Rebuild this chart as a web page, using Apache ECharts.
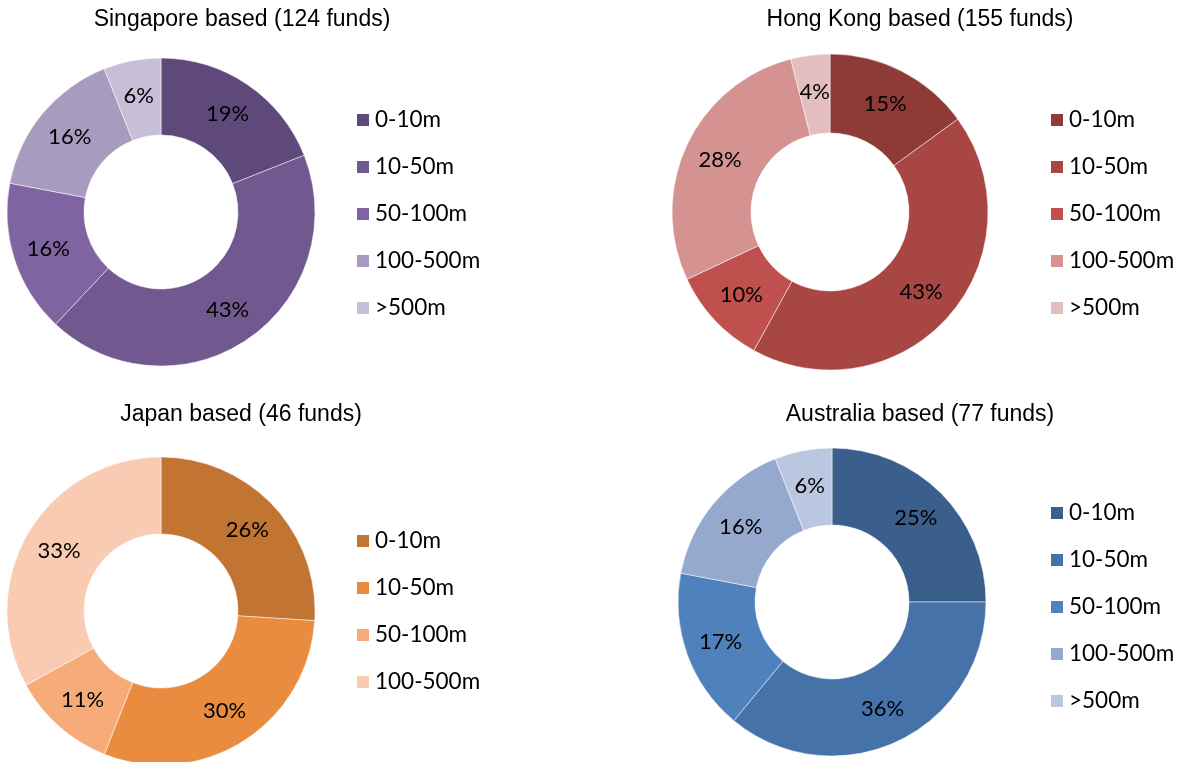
<!DOCTYPE html>
<html>
<head>
<meta charset="utf-8">
<script src="https://cdn.jsdelivr.net/npm/echarts@6/dist/echarts.min.js"></script>
<style>
  html, body { margin: 0; padding: 0; background: #fff; }
  #chart { width: 1184px; height: 762px; }
</style>
</head>
<body>
<div id="chart"></div>
<script>
// Fund size buckets and share of funds (%) by domicile
const sizeBuckets = ['0-10m', '10-50m', '50-100m', '100-500m', '>500m'];

const singaporeTitle = 'Singapore based (124 funds)';
const singaporeValues = [19, 43, 16, 16, 6];
const singaporeColors = ['#5F497A', '#71588F', '#8064A2', '#A79BBE', '#C7BFD7'];

const hongKongTitle = 'Hong Kong based (155 funds)';
const hongKongValues = [15, 43, 10, 28, 4];
const hongKongColors = ['#8E3B38', '#A84644', '#C0504D', '#D49391', '#E3BEBE'];

const japanTitle = 'Japan based (46 funds)';
const japanBuckets = ['0-10m', '10-50m', '50-100m', '100-500m'];
const japanValues = [26, 30, 11, 33];
const japanColors = ['#C27433', '#E98C3F', '#F7AB79', '#F9CBB2'];

const australiaTitle = 'Australia based (77 funds)';
const australiaValues = [25, 36, 17, 16, 6];
const australiaColors = ['#3A5F8C', '#4573A9', '#4F81BD', '#95A9CE', '#B9C7E0'];

const panels = [
  { key: 'sg', title: singaporeTitle, buckets: sizeBuckets, values: singaporeValues, colors: singaporeColors,
    center: [161, 212], radius: [77, 154], titlePos: [242, 8], legendPos: [355, 108] },
  { key: 'hk', title: hongKongTitle, buckets: sizeBuckets, values: hongKongValues, colors: hongKongColors,
    center: [830, 212], radius: [79, 158], titlePos: [920, 8], legendPos: [1049, 108] },
  { key: 'jp', title: japanTitle, buckets: japanBuckets, values: japanValues, colors: japanColors,
    center: [161, 611], radius: [77, 154], titlePos: [241, 403], legendPos: [355, 529] },
  { key: 'au', title: australiaTitle, buckets: sizeBuckets, values: australiaValues, colors: australiaColors,
    center: [832, 602], radius: [77, 154], titlePos: [920, 403], legendPos: [1049, 501] }
];

const labelFont = 'Lato, "Open Sans", "Noto Sans", sans-serif';
const titleFont = '"Liberation Sans", Arial, sans-serif';

const titles = [];
const legends = [];
const series = [];

panels.forEach(p => {
  const names = p.buckets.map(b => p.key + '|' + b);
  titles.push({
    text: p.title,
    left: p.titlePos[0],
    top: p.titlePos[1],
    padding: 0,
    textAlign: 'center',
    textStyle: { fontFamily: titleFont, fontSize: 23, fontWeight: 'normal', color: '#000' }
  });
  legends.push({
    orient: 'vertical',
    left: p.legendPos[0],
    top: p.legendPos[1],
    padding: 0,
    icon: 'rect',
    itemWidth: 14,
    itemHeight: 14,
    itemGap: 23,
    itemTextGap: 5,
    selectedMode: false,
    data: names,
    formatter: n => n.split('|')[1],
    textStyle: { fontFamily: labelFont, fontSize: 22.5, color: '#000', lineHeight: 24 }
  });
  series.push({
    type: 'pie',
    center: p.center,
    radius: p.radius,
    startAngle: 90,
    clockwise: true,
    avoidLabelOverlap: false,
    silent: true,
    itemStyle: { borderColor: '#fff', borderWidth: 0.5 },
    label: {
      show: true,
      position: 'inside',
      formatter: '{c}%',
      fontFamily: labelFont,
      fontSize: 22,
      color: '#000'
    },
    labelLine: { show: false },
    data: p.values.map((v, i) => ({ name: names[i], value: v, itemStyle: { color: p.colors[i] } }))
  });
});

const chart = echarts.init(document.getElementById('chart'), null, { renderer: 'canvas' });
chart.setOption({
  animation: false,
  backgroundColor: '#fff',
  title: titles,
  legend: legends,
  series: series
});
</script>
</body>
</html>
